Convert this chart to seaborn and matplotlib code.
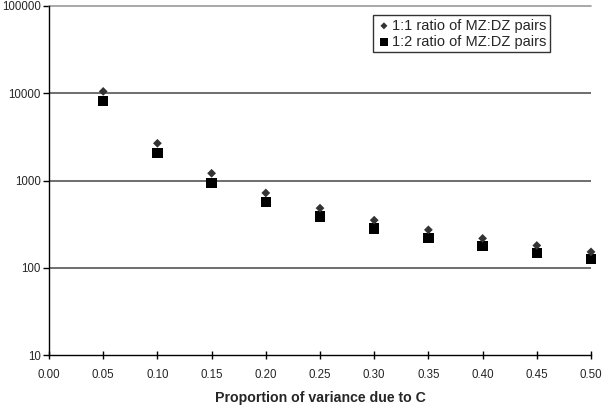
import matplotlib
matplotlib.use("Agg")
import matplotlib.pyplot as plt
import seaborn as sns
import pandas as pd

proportion_c = [0.05, 0.10, 0.15, 0.20, 0.25, 0.30, 0.35, 0.40, 0.45, 0.50]
ratio_1_1 = [10500, 2670, 1210, 720, 482, 351, 272, 217, 180, 152]
ratio_1_2 = [8100, 2050, 932, 570, 387, 282, 218, 179, 147, 127]
series_names = ["1:1 ratio of MZ:DZ pairs", "1:2 ratio of MZ:DZ pairs"]
x_ticks = [0.00, 0.05, 0.10, 0.15, 0.20, 0.25, 0.30, 0.35, 0.40, 0.45, 0.50]
y_ticks = [10, 100, 1000, 10000, 100000]

df = pd.DataFrame({
    "x": proportion_c * 2,
    "y": ratio_1_1 + ratio_1_2,
    "series": [series_names[0]] * len(proportion_c) + [series_names[1]] * len(proportion_c),
})

sns.set_style("white")
plt.rcParams["font.family"] = ["Liberation Sans", "DejaVu Sans"]

fig = plt.figure(figsize=(6.04, 4.05), dpi=100)
ax = fig.add_axes([49 / 604, 1 - 355 / 405, (591 - 49) / 604, (355 - 6) / 405])

sub1 = df[df.series == series_names[0]]
sub2 = df[df.series == series_names[1]]
sns.scatterplot(data=sub1, x="x", y="y", marker="D", color="#333333", s=20,
                edgecolor="none", ax=ax, label=series_names[0], zorder=4, clip_on=False)
sns.scatterplot(data=sub2, x="x", y="y", marker="s", color="#000000", s=55,
                edgecolor="none", ax=ax, label=series_names[1], zorder=3, clip_on=False)

ax.set_yscale("log")
ax.set_ylim(10, 100000)
ax.set_xlim(0, 0.5)
ax.set_yticks(y_ticks)
ax.set_yticklabels([str(v) for v in y_ticks])
ax.yaxis.set_minor_locator(matplotlib.ticker.NullLocator())
ax.set_xticks(x_ticks)
ax.set_xticklabels([f"{v:.2f}" for v in x_ticks])

for v in y_ticks[1:-1]:
    ax.axhline(v, color="#555555", lw=1.2, zorder=1)
ax.axhline(y_ticks[-1], color="#9a9a9a", lw=1.2, zorder=1, clip_on=False)

for side in ["top", "right"]:
    ax.spines[side].set_visible(False)
for side in ["left", "bottom"]:
    ax.spines[side].set_color("black")
    ax.spines[side].set_linewidth(1.0)

ax.tick_params(axis="y", which="major", direction="out", length=4, width=1,
               color="black", labelsize=8.3, pad=2, left=True)
ax.tick_params(axis="x", which="major", direction="inout", length=6, width=1,
               color="black", labelsize=8.3, pad=7, bottom=True)

ax.set_xlabel("Proportion of variance due to C", fontsize=10.2, fontweight="bold", labelpad=7)
ax.set_ylabel("")

leg = ax.legend(loc="upper left", bbox_to_anchor=((373 - 49) / 542, 1 - (15 - 6) / 349),
                frameon=True, fancybox=False, fontsize=10.5, handletextpad=0.05,
                borderpad=0.25, labelspacing=0.15, handlelength=1.0, borderaxespad=0,
                markerscale=0.8)
leg.get_frame().set_edgecolor("black")
leg.get_frame().set_linewidth(1.0)

fig.savefig("out.png", dpi=100)
